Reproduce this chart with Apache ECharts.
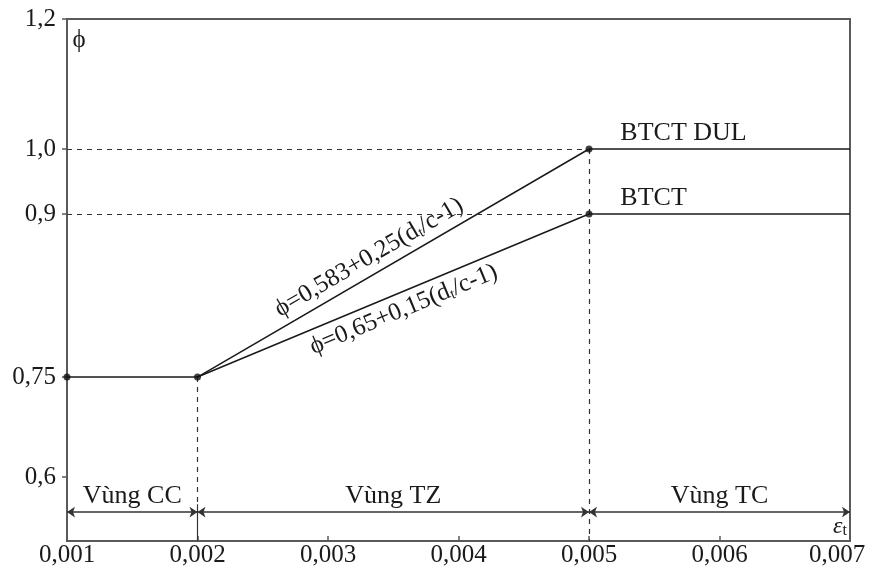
<!DOCTYPE html>
<html><head><meta charset="utf-8">
<script src="https://cdn.jsdelivr.net/npm/echarts@6/dist/echarts.min.js"></script>
<style>html,body{margin:0;padding:0;background:#fff}#c{width:869px;height:575px}</style>
</head><body><div id="c"></div>
<script>
// ---------- data ----------
const strain = [0.001, 0.002, 0.005, 0.007];
const phiPrestressed = [0.75, 0.75, 1.0, 1.0];   // BTCT DUL
const phiReinforced = [null, 0.75, 0.9, 0.9];    // BTCT
const keyStrain = [0.001, 0.002, 0.005, 0.005];
const keyPhi = [0.75, 0.75, 1.0, 0.9];
const yTickValues = [0.6, 0.75, 0.9, 1.0, 1.2];
const yTickLabels = ['0,6', '0,75', '0,9', '1,0', '1,2'];
const zoneNames = ['Vùng CC', 'Vùng TZ', 'Vùng TC'];
const zoneBounds = [0.001, 0.002, 0.005, 0.007];
const seriesNames = ['BTCT DUL', 'BTCT'];

// ---------- broken (piecewise) phi scale of the original drawing ----------
const PHI_KNOTS = [0.6, 0.75, 0.9, 1.2];
const AXIS_KNOTS = [0.4954, 0.6492, 0.9, 1.2];
function toAxis(p) {
  let i = 0;
  while (i < PHI_KNOTS.length - 2 && p > PHI_KNOTS[i + 1]) i++;
  const t = (p - PHI_KNOTS[i]) / (PHI_KNOTS[i + 1] - PHI_KNOTS[i]);
  return AXIS_KNOTS[i] + t * (AXIS_KNOTS[i + 1] - AXIS_KNOTS[i]);
}
const Y_MIN = 0.397, Y_MAX = 1.2;
const ARROW_U = 0.4415, ZONE_LABEL_U = 0.466;
const yTickU = yTickValues.map(toAxis);

const FONT = '"Liberation Serif", "DejaVu Serif", "Times New Roman", serif';
const INK = '#1a1a1a';
const FRAME = '#5a5a5a';

const chart = echarts.init(document.getElementById('c'));

const dulData = strain.map((x, i) => [x, toAxis(phiPrestressed[i])]);
const btctData = strain.map((x, i) => phiReinforced[i] == null ? null : [x, toAxis(phiReinforced[i])]).filter(Boolean);

const dashed = { type: [5, 5], color: '#333', width: 1.2 };
const guideLines = [
  [{ coord: [0.001, toAxis(1.0)] }, { coord: [0.005, toAxis(1.0)] }],
  [{ coord: [0.001, toAxis(0.9)] }, { coord: [0.005, toAxis(0.9)] }],
  [{ coord: [0.002, toAxis(0.75)] }, { coord: [0.002, ARROW_U + 0.012] }],
  [{ coord: [0.005, toAxis(1.0)] }, { coord: [0.005, Y_MIN] }],
  [{ coord: [0.002, ARROW_U + 0.012], lineStyle: { type: 'solid' } }, { coord: [0.002, Y_MIN] }]
];

const zoneArrows = zoneNames.map((n, i) => [{ coord: [zoneBounds[i], ARROW_U] }, { coord: [zoneBounds[i + 1], ARROW_U] }]);

const xMax = 0.007;
chart.setOption({
  animation: false,
  backgroundColor: '#fff',
  grid: { left: 67, right: 19, top: 19, bottom: 34, show: true, borderColor: FRAME, borderWidth: 2, containLabel: false, outerBoundsMode: 'none' },
  xAxis: {
    type: 'value', min: 0.001, max: xMax, interval: 0.001,
    axisLine: { lineStyle: { color: FRAME, width: 2 } },
    axisTick: { inside: true, length: 5, lineStyle: { color: FRAME, width: 1.5 } },
    axisLabel: {
      formatter: v => {
        const s = v.toFixed(3).replace('.', ',');
        return Math.abs(v - xMax) < 1e-9 ? '{last|' + s + '}' : s;
      },
      rich: { last: { fontFamily: FONT, fontSize: 25, color: INK, padding: [0, 26, 0, 0] } },
      fontFamily: FONT, fontSize: 25, color: INK, margin: 2, hideOverlap: false, showMinLabel: true, showMaxLabel: true
    },
    splitLine: { show: false }
  },
  yAxis: {
    type: 'value', min: Y_MIN, max: Y_MAX,
    axisLine: { show: true, lineStyle: { color: FRAME, width: 2 } },
    axisTick: { show: true, length: 5, customValues: yTickU, lineStyle: { color: FRAME, width: 1.5 } },
    axisLabel: {
      customValues: yTickU, fontFamily: FONT, fontSize: 25, color: INK, margin: 11,
      formatter: v => { const i = yTickU.findIndex(u => Math.abs(u - v) < 1e-6); return i >= 0 ? yTickLabels[i] : ''; }
    },
    splitLine: { show: false }
  },
  series: [
    {
      name: seriesNames[0], type: 'line', data: dulData, symbol: 'none',
      lineStyle: { color: INK, width: 1.5 },
      markLine: { silent: true, symbol: 'none', label: { show: false }, lineStyle: dashed, data: guideLines }
    },
    {
      name: seriesNames[1], type: 'line', data: btctData, symbol: 'none',
      lineStyle: { color: INK, width: 1.5 }
    },
    {
      type: 'scatter', data: keyStrain.map((x, i) => [x, toAxis(keyPhi[i])]),
      symbol: 'circle', symbolSize: 7, itemStyle: { color: '#111' }, z: 5
    },
    {
      type: 'scatter', data: [],
      markLine: {
        silent: true, symbol: ['arrow', 'arrow'], symbolSize: 8, label: { show: false },
        lineStyle: { type: 'solid', color: '#333', width: 1.5 }, data: zoneArrows
      }
    }
  ]
});

// ---------- text annotations placed through the axes ----------
const px = (x, u) => chart.convertToPixel({ gridIndex: 0 }, [x, u]);
const graphics = [];
zoneNames.forEach((n, i) => {
  const p = px((zoneBounds[i] + zoneBounds[i + 1]) / 2, ZONE_LABEL_U);
  graphics.push({ type: 'text', x: p[0], y: p[1], style: { text: n, font: '26px ' + FONT, fill: INK, align: 'center', verticalAlign: 'middle' } });
});
// series names
[[1.0, seriesNames[0]], [0.9, seriesNames[1]]].forEach(([phi, name]) => {
  const p = px(0.00524, toAxis(phi));
  graphics.push({ type: 'text', x: p[0], y: p[1] - 3, style: { text: name, font: '26px ' + FONT, fill: INK, align: 'left', verticalAlign: 'bottom' } });
});
// axis symbols
const tl = px(0.001, Y_MAX);
graphics.push({ type: 'text', x: tl[0] + 12, y: tl[1] + 21, style: { text: 'ϕ', font: '25px ' + FONT, fill: INK, align: 'center', verticalAlign: 'middle' } });
const br = px(xMax, Y_MIN);
graphics.push({
  type: 'text', x: br[0] - 3, y: br[1] - 14,
  style: {
    text: '{e|ε}{s|t}', align: 'right', verticalAlign: 'middle', fill: INK,
    rich: { e: { font: 'italic 24px ' + FONT, fill: INK }, s: { font: '16px ' + FONT, fill: INK, verticalAlign: 'bottom', padding: [8, 0, 0, 0] } }
  }
});
// formula labels rotated along their lines
function formula(label, x0, phi0, x1, phi1, anchorX, offset) {
  const a = px(x0, toAxis(phi0)), b = px(x1, toAxis(phi1));
  const ang = Math.atan2(-(b[1] - a[1]), b[0] - a[0]);
  const t = (anchorX - x0) / (x1 - x0);
  const cx = a[0] + t * (b[0] - a[0]), cy = a[1] + t * (b[1] - a[1]);
  const nx = -Math.sin(ang), ny = -Math.cos(ang);
  graphics.push({
    type: 'text', x: cx + nx * offset, y: cy + ny * offset, rotation: ang,
    style: {
      text: label, align: 'center', verticalAlign: 'middle', fill: INK,
      rich: { m: { font: '25px ' + FONT, fill: INK }, s: { font: '15px ' + FONT, fill: INK, verticalAlign: 'bottom', padding: [10, 0, 0, 0] } }
    }
  });
}
formula('{m|ϕ=0,583+0,25(d}{s|t}{m|/c-1)}', 0.002, 0.75, 0.005, 1.0, 0.003380, 17);
formula('{m|ϕ=0,65+0,15(d}{s|t}{m|/c-1)}', 0.002, 0.75, 0.005, 0.9, 0.003530, -17);

chart.setOption({ graphic: graphics });
</script>
</body></html>
